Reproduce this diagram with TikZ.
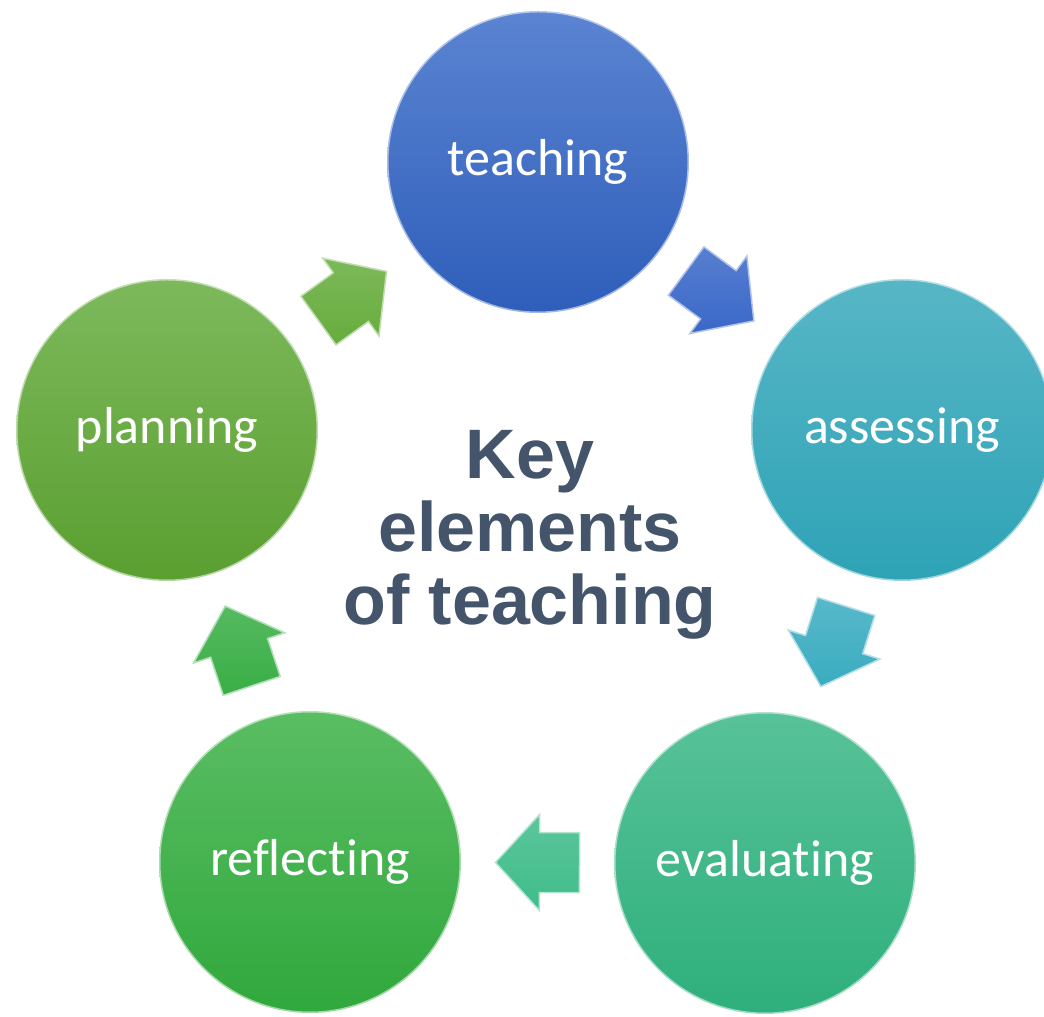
\documentclass[tikz,border=0pt]{standalone}
\usepackage{fontspec}
\setmainfont{Carlito}[Ligatures={NoCommon}]
\newfontfamily\titlefont{Liberation Sans}
\usetikzlibrary{calc}
\definecolor{teachT}{HTML}{5B84D2}\definecolor{teachB}{HTML}{2E5EBA}
\definecolor{assT}{HTML}{57B6C6}\definecolor{assB}{HTML}{2EA3B6}
\definecolor{evalT}{HTML}{58C298}\definecolor{evalB}{HTML}{2EAF7C}
\definecolor{reflT}{HTML}{5ABD63}\definecolor{reflB}{HTML}{30A83C}
\definecolor{planT}{HTML}{7DB95C}\definecolor{planB}{HTML}{5A9F30}
\definecolor{arA}{HTML}{66AC3C}
\definecolor{arB}{HTML}{3A68C8}
\definecolor{arC}{HTML}{3AACC0}
\definecolor{arD}{HTML}{3FBC8A}
\definecolor{arE}{HTML}{38AE45}
\definecolor{titlecol}{HTML}{44546A}
\tikzset{
  bubble/.style n args={2}{circle, inner sep=0pt, minimum size=302pt,
    top color=#1, bottom color=#2, draw=white, draw opacity=0.55, line width=3pt,
    text=white, font=\fontsize{52}{60}\selectfont},
  pics/flowarrow/.style={code={
    \path[top color=#1!85!white, bottom color=#1, draw=#1!40!white, line width=1.5pt, line join=miter]
      (42,0) -- (-2,48) -- (-2,30) -- (-42,30) -- (-42,-30) -- (-2,-30) -- (-2,-48) -- cycle;
  }}
}
\begin{document}
\begin{tikzpicture}[x=1pt,y=1pt]
\useasboundingbox (0,0) rectangle (1044,1017);
\fill[white] (0,0) rectangle (1044,1017);

\node[bubble={teachT}{teachB}] (teach) at (538,855) {teaching};
\node[bubble={assT}{assB}]     (assess) at (902,587) {assessing};
\node[bubble={evalT}{evalB}]   (eval) at (765,154) {evaluating};
\node[bubble={reflT}{reflB}]   (refl) at (310,155) {reflecting};
\node[bubble={planT}{planB}]   (plan) at (167,587) {planning};

\path let \p1=($(teach)-(plan)$), \n1={atan2(\y1,\x1)} in
  pic[rotate=\n1] (arr1) at ($(plan)!0.5!(teach)$) {flowarrow=arA};
\path let \p1=($(assess)-(teach)$), \n1={atan2(\y1,\x1)} in
  pic[rotate=\n1] (arr2) at ($(teach)!0.5!(assess)$) {flowarrow=arB};
\path let \p1=($(eval)-(assess)$), \n1={atan2(\y1,\x1)} in
  pic[rotate=\n1] (arr3) at ($(assess)!0.5!(eval)$) {flowarrow=arC};
\path let \p1=($(refl)-(eval)$), \n1={atan2(\y1,\x1)} in
  pic[rotate=\n1] (arr4) at ($(eval)!0.5!(refl)$) {flowarrow=arD};
\path let \p1=($(plan)-(refl)$), \n1={atan2(\y1,\x1)} in
  pic[rotate=\n1] (arr5) at ($(refl)!0.5!(plan)$) {flowarrow=arE};

\node[font=\titlefont\bfseries\fontsize{70}{73}\selectfont, text=titlecol, align=center]
  (title) at (530,482) {Key\\elements\\of teaching};
\end{tikzpicture}
\end{document}
